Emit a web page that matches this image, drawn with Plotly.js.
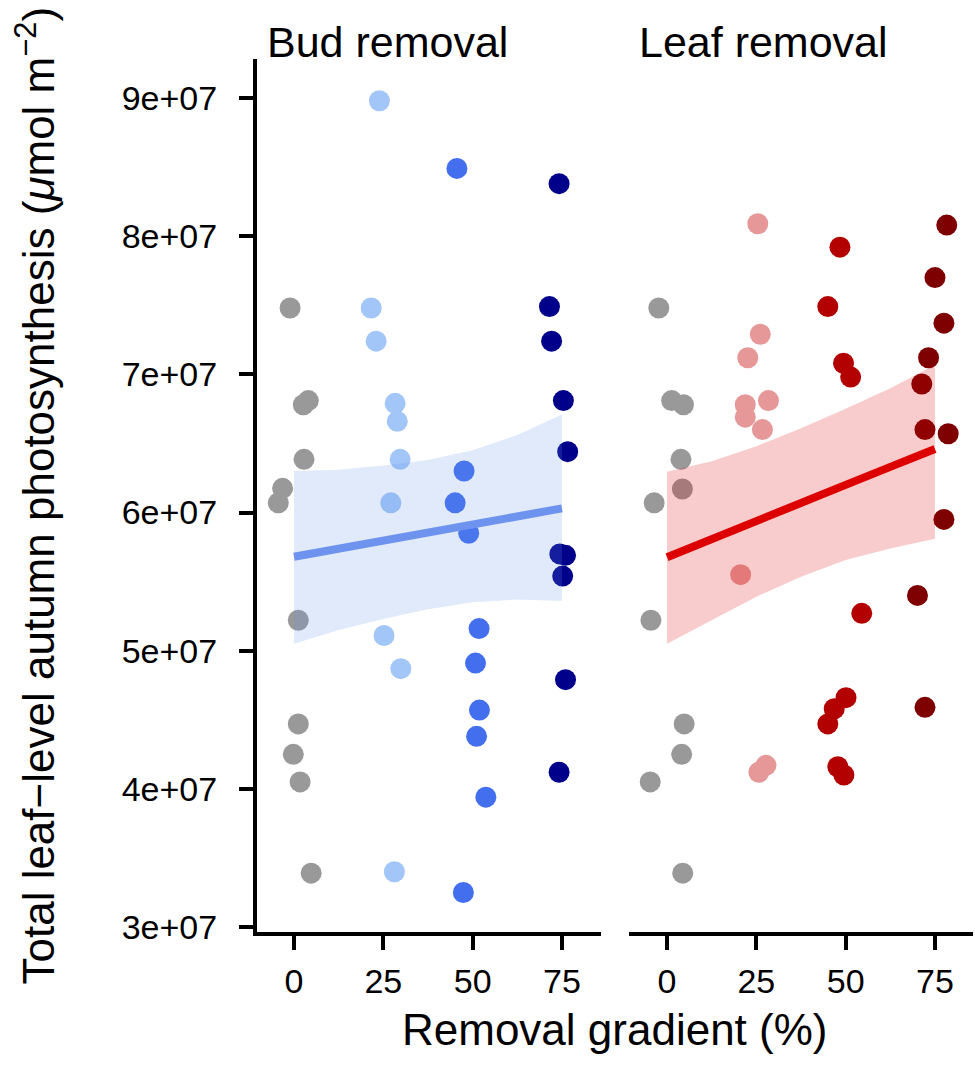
<!DOCTYPE html>
<html>
<head>
<meta charset="utf-8">
<script src="https://cdn.plot.ly/plotly-3.0.1.min.js"></script>
<style>
    html, body { margin: 0; padding: 0; background: #ffffff; }
    #plotContainer { width: 975px; height: 1073px; }
</style>
</head>
<body>
<div id="plotContainer"></div>
<script>

// Bud removal panel, x = removal gradient (%), y = photosynthesis
var budControlX = [ -1.1, 4.0, 2.6, 2.8, -3.2, -4.4, 1.2, 1.2, -0.2, 1.7, 4.8 ];
var budControlY = [ 7.48e7, 6.81e7, 6.78e7, 6.385e7, 6.175e7, 6.07e7, 5.22e7, 4.47e7, 4.25e7, 4.05e7, 3.39e7 ];

var bud25X = [ 23.9, 21.6, 23.0, 28.3, 28.9, 29.7, 27.1, 25.2, 29.9, 28.1 ];
var bud25Y = [ 8.98e7, 7.48e7, 7.24e7, 6.79e7, 6.66e7, 6.385e7, 6.07e7, 5.11e7, 4.87e7, 3.40e7 ];

var bud50X = [ 45.6, 47.6, 45.1, 48.9, 51.8, 50.8, 51.9, 51.1, 53.7, 47.4 ];
var bud50Y = [ 8.49e7, 6.30e7, 6.07e7, 5.85e7, 5.16e7, 4.91e7, 4.57e7, 4.38e7, 3.94e7, 3.25e7 ];

var bud75X = [ 74.2, 71.5, 72.1, 75.4, 76.6, 74.4, 76.0, 75.2, 76.0, 74.2 ];
var bud75Y = [ 8.38e7, 7.49e7, 7.24e7, 6.81e7, 6.44e7, 5.70e7, 5.69e7, 5.54e7, 4.79e7, 4.12e7 ];

// Leaf removal panel
var leafControlX = [ -2.3, 1.3, 4.6, 3.9, 4.3, -3.6, -4.5, 4.8, 4.1, -4.7, 4.4 ];
var leafControlY = [ 7.48e7, 6.81e7, 6.78e7, 6.385e7, 6.17e7, 6.07e7, 5.22e7, 4.47e7, 4.25e7, 4.05e7, 3.39e7 ];

var leaf25X = [ 25.4, 26.1, 22.6, 21.9, 28.4, 21.9, 26.7, 20.6, 27.7, 25.7 ];
var leaf25Y = [ 8.09e7, 7.29e7, 7.12e7, 6.78e7, 6.81e7, 6.69e7, 6.60e7, 5.55e7, 4.17e7, 4.12e7 ];

var leaf50X = [ 48.4, 45.0, 49.4, 51.4, 54.5, 50.1, 46.8, 45.0, 47.8, 49.5 ];
var leaf50Y = [ 7.92e7, 7.49e7, 7.08e7, 6.98e7, 5.27e7, 4.66e7, 4.58e7, 4.47e7, 4.16e7, 4.10e7 ];

var leaf75X = [ 78.3, 75.0, 77.5, 73.2, 71.3, 72.2, 78.7, 77.5, 70.1, 72.2 ];
var leaf75Y = [ 8.08e7, 7.70e7, 7.37e7, 7.12e7, 6.93e7, 6.60e7, 6.57e7, 5.95e7, 5.40e7, 4.59e7 ];

// Fitted lines and confidence bands
var fitX = [ 0, 12.5, 25, 37.5, 50, 62.5, 75 ];

var budFit   = [ 5.68e7, 5.74e7, 5.80e7, 5.855e7, 5.91e7, 5.97e7, 6.03e7 ];
var budUpper = [ 6.30e7, 6.31e7, 6.34e7, 6.38e7, 6.45e7, 6.56e7, 6.71e7 ];
var budLower = [ 5.05e7, 5.15e7, 5.23e7, 5.30e7, 5.35e7, 5.37e7, 5.36e7 ];

var leafFit   = [ 5.676e7, 5.81e7, 5.94e7, 6.07e7, 6.20e7, 6.33e7, 6.46e7 ];
var leafUpper = [ 6.295e7, 6.37e7, 6.48e7, 6.61e7, 6.75e7, 6.90e7, 7.07e7 ];
var leafLower = [ 5.05e7, 5.22e7, 5.39e7, 5.535e7, 5.656e7, 5.74e7, 5.81e7 ];

var xTickVals = [ 0, 25, 50, 75 ];
var yTickVals = [ 3e7, 4e7, 5e7, 6e7, 7e7, 8e7, 9e7 ];
var yTickText = [ '3e+07', '4e+07', '5e+07', '6e+07', '7e+07', '8e+07', '9e+07' ];

var fontFamily = '"Liberation Sans", Arial, Helvetica, sans-serif';

/**
 * Builds a marker trace for one group of points
 */
function pointTrace( xs, ys, color, xaxis ) {
    return {
        x: xs,
        y: ys,
        xaxis: xaxis,
        yaxis: 'y',
        type: 'scatter',
        mode: 'markers',
        marker: { color: color, size: 21, line: { width: 0 } },
        hoverinfo: 'skip',
        showlegend: false
    };
}

/**
 * Builds the shaded confidence band as a closed polygon
 */
function bandTrace( xs, upper, lower, fill, xaxis ) {
    let polyX = xs.concat( xs.slice().reverse() );
    let polyY = upper.concat( lower.slice().reverse() );
    return {
        x: polyX,
        y: polyY,
        xaxis: xaxis,
        yaxis: 'y',
        type: 'scatter',
        mode: 'lines',
        fill: 'toself',
        fillcolor: fill,
        line: { width: 0, color: 'rgba(0,0,0,0)' },
        hoverinfo: 'skip',
        showlegend: false
    };
}

function fitTrace( xs, ys, color, xaxis ) {
    return {
        x: xs,
        y: ys,
        xaxis: xaxis,
        yaxis: 'y',
        type: 'scatter',
        mode: 'lines',
        line: { color: color, width: 8 },
        hoverinfo: 'skip',
        showlegend: false
    };
}

function xAxis( domain, range ) {
    return {
        domain: domain,
        range: range,
        anchor: 'y',
        tickvals: xTickVals,
        ticktext: xTickVals.map( String ),
        ticks: 'outside',
        ticklen: 14,
        tickwidth: 4,
        tickcolor: '#000000',
        ticklabelstandoff: 2,
        showline: true,
        linewidth: 4,
        linecolor: '#000000',
        showgrid: false,
        zeroline: false,
        tickfont: { family: fontFamily, size: 34, color: '#000000' }
    };
}

let data = [
    pointTrace( budControlX, budControlY, '#999999', 'x' ),
    pointTrace( bud25X, bud25Y, '#A2C6F7', 'x' ),
    pointTrace( bud50X, bud50Y, '#436EEE', 'x' ),
    pointTrace( bud75X, bud75Y, '#00008B', 'x' ),
    bandTrace( fitX, budUpper, budLower, 'rgba(100,149,237,0.2)', 'x' ),
    fitTrace( fitX, budFit, '#6E93EE', 'x' ),

    pointTrace( leafControlX, leafControlY, '#999999', 'x2' ),
    pointTrace( leaf25X, leaf25Y, '#E69899', 'x2' ),
    pointTrace( leaf50X, leaf50Y, '#B30000', 'x2' ),
    pointTrace( leaf75X, leaf75Y, '#7F0000', 'x2' ),
    bandTrace( fitX, leafUpper, leafLower, 'rgba(221,0,0,0.2)', 'x2' ),
    fitTrace( fitX, leafFit, '#DD0000', 'x2' )
];

let layout = {
    width: 975,
    height: 1073,
    margin: { l: 257, r: 2, t: 59, b: 141 },
    paper_bgcolor: '#ffffff',
    plot_bgcolor: '#ffffff',
    showlegend: false,
    font: { family: fontFamily, color: '#000000' },
    xaxis: xAxis( [ 0, 0.4804 ], [ -10.36, 85.92 ] ),
    xaxis2: xAxis( [ 0.5196, 1 ], [ -10.63, 85.64 ] ),
    yaxis: {
        range: [ 2.964e7, 9.282e7 ],
        anchor: 'x',
        tickvals: yTickVals,
        ticktext: yTickText,
        ticks: 'outside',
        ticklen: 14,
        tickwidth: 4,
        tickcolor: '#000000',
        ticklabelstandoff: 15,
        showline: true,
        linewidth: 4,
        linecolor: '#000000',
        showgrid: false,
        zeroline: false,
        tickfont: { family: fontFamily, size: 34, color: '#000000' }
    },
    annotations: [
        {
            text: 'Bud removal', xref: 'paper', yref: 'paper',
            x: 0.0112, y: 1.0195, xanchor: 'left', yanchor: 'middle',
            showarrow: false, font: { size: 43, family: fontFamily }
        },
        {
            text: 'Leaf removal', xref: 'paper', yref: 'paper',
            x: 0.5307, y: 1.0195, xanchor: 'left', yanchor: 'middle',
            showarrow: false, font: { size: 43, family: fontFamily }
        },
        {
            text: 'Removal gradient (%)', xref: 'paper', yref: 'paper',
            x: 0.5, y: -0.112, xanchor: 'center', yanchor: 'middle',
            showarrow: false, font: { size: 44, family: fontFamily }
        },
        {
            text: 'Total leaf\u2212level autumn photosynthesis (<i>\u03bc</i>mol m<sup>\u22122</sup>)',
            xref: 'paper', yref: 'paper',
            x: -0.310, y: 0.5, xanchor: 'center', yanchor: 'middle',
            textangle: -90,
            showarrow: false, font: { size: 44, family: fontFamily }
        }
    ]
};

Plotly.newPlot( 'plotContainer', data, layout, { displayModeBar: false, staticPlot: true } );

</script>
</body>
</html>
